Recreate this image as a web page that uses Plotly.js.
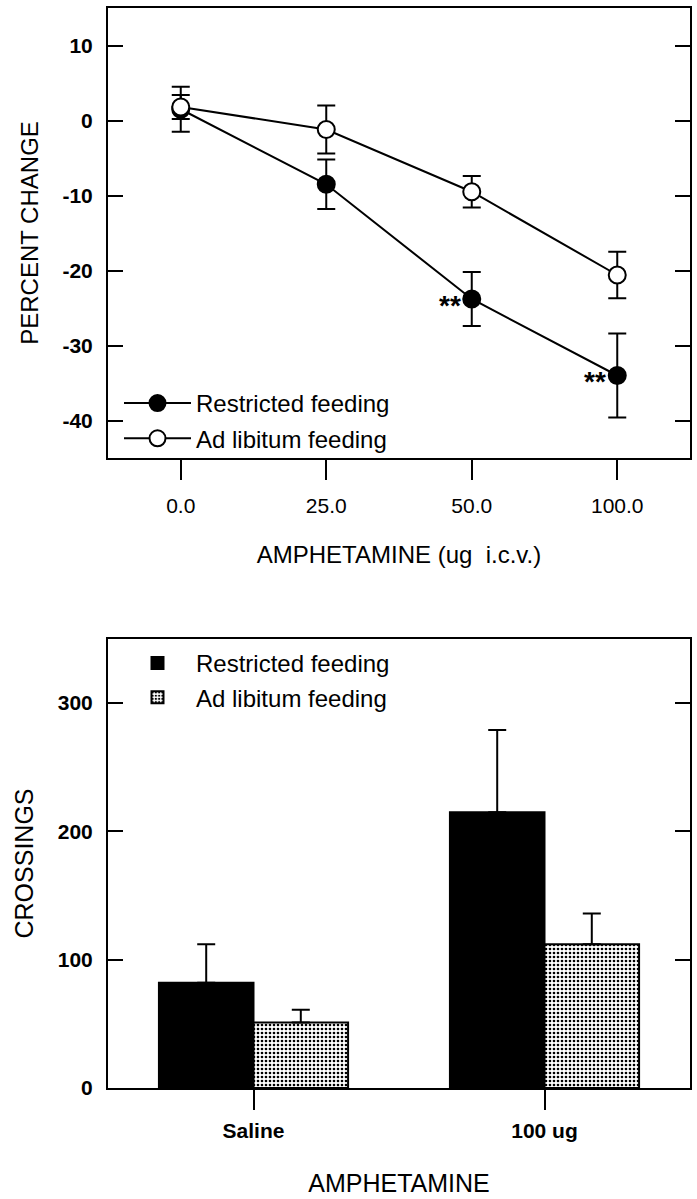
<!DOCTYPE html>
<html>
<head>
<meta charset="utf-8">
<script src="https://cdn.plot.ly/plotly-3.0.1.min.js"></script>
<style>
  html, body { margin: 0; padding: 0; background: #fff; }
  #chart { width: 697px; height: 1199px; }
</style>
</head>
<body>
<div id="chart"></div>
<script>
// top panel: percent change vs dose
const doses = ['0.0', '25.0', '50.0', '100.0'];
const restrictedPct = [1.5, -8.5, -23.8, -34.0];
const restrictedPctErr = [3.0, 3.3, 3.6, 5.6];
const adlibPct = [1.8, -1.2, -9.5, -20.6];
const adlibPctErr = [1.6, 3.2, 2.1, 3.1];
const pctTicks = [-40, -30, -20, -10, 0, 10];
const pctTickText = ['-40', '-30', '-20', '-10', '0', '10'];
const starIdx = [2, 3];   // doses marked ** (50.0, 100.0)

// bottom panel: crossings
const groups = ['Saline', '100 ug'];
const restrictedCross = [82, 215];
const restrictedCrossErr = [30, 64];
const adlibCross = [51, 112];
const adlibCrossErr = [10, 24];
const crossTicks = [0, 100, 200, 300];

const FONT = 'Liberation Sans, Arial, Helvetica, sans-serif';
const W = 697, H = 1199;
const px = v => v / W;
const py = v => 1 - v / H;

const traces = [
    {
        x: doses, y: restrictedPct, type: 'scatter', mode: 'lines+markers',
        name: 'Restricted feeding', legend: 'legend', legendgroup: 'r1',
        line: { color: '#000', width: 2 },
        marker: { size: 17, color: '#000', line: { color: '#000', width: 2 } },
        error_y: { type: 'data', array: restrictedPctErr, visible: true, color: '#000', thickness: 2, width: 9 },
        xaxis: 'x', yaxis: 'y'
    },
    {
        x: doses, y: adlibPct, type: 'scatter', mode: 'lines+markers',
        name: 'Ad libitum feeding', legend: 'legend', legendgroup: 'a1',
        line: { color: '#000', width: 2 },
        marker: { size: 17, color: '#fff', line: { color: '#000', width: 2 } },
        error_y: { type: 'data', array: adlibPctErr, visible: true, color: '#000', thickness: 2, width: 9 },
        xaxis: 'x', yaxis: 'y'
    },
    {
        x: groups, y: restrictedCross, type: 'bar', name: 'Restricted feeding',
        legend: 'legend2', legendgroup: 'r2',
        marker: { color: '#000', line: { color: '#000', width: 2 } },
        error_y: { type: 'data', array: restrictedCrossErr, symmetric: false, arrayminus: [0, 0], visible: true, color: '#000', thickness: 2, width: 9 },
        xaxis: 'x2', yaxis: 'y2'
    },
    {
        x: groups, y: adlibCross, type: 'bar', name: 'Ad libitum feeding',
        legend: 'legend2', legendgroup: 'a2',
        marker: {
            color: '#fff', line: { color: '#000', width: 2 },
            pattern: { shape: '.', fgcolor: '#000', bgcolor: '#fff', size: 4, solidity: 0.35 }
        },
        error_y: { type: 'data', array: adlibCrossErr, symmetric: false, arrayminus: [0, 0], visible: true, color: '#000', thickness: 2, width: 9 },
        xaxis: 'x2', yaxis: 'y2'
    }
];

const axisCommon = {
    showline: true, linecolor: '#000', linewidth: 2,
    showgrid: false, zeroline: false,
    tickcolor: '#000', tickwidth: 2
};

const layout = {
    width: W, height: H,
    margin: { l: 0, r: 0, t: 0, b: 0 },
    paper_bgcolor: '#fff', plot_bgcolor: '#fff',
    font: { family: FONT, color: '#000', size: 20 },
    barmode: 'group', bargap: 0.35, bargroupgap: 0,
    xaxis: {
        ...axisCommon, domain: [px(108), px(690)], anchor: 'y',
        type: 'category', range: [-0.5, 3.5], mirror: true,
        ticks: 'outside', ticklen: 20, ticklabelstandoff: 8,
        tickfont: { size: 21, family: FONT },
        title: { text: 'AMPHETAMINE (ug  i.c.v.)', font: { size: 24, family: FONT }, standoff: 30 }
    },
    yaxis: {
        ...axisCommon, domain: [py(458), py(8)], anchor: 'x',
        range: [-45, 15], tickvals: pctTicks, ticktext: pctTickText, mirror: 'ticks',
        ticks: 'inside', ticklen: 15, ticklabelstandoff: 9,
        tickfont: { size: 21, family: FONT, weight: 'bold' },
        title: { text: 'PERCENT CHANGE', font: { size: 24, family: FONT }, standoff: 17 }
    },
    xaxis2: {
        ...axisCommon, domain: [px(108), px(690)], anchor: 'y2',
        type: 'category', range: [-0.5, 1.5], mirror: true,
        ticks: 'outside', ticklen: 20, ticklabelstandoff: 3,
        tickfont: { size: 21, family: FONT, weight: 'bold' },
        title: { text: 'AMPHETAMINE', font: { size: 25, family: FONT }, standoff: 33 }
    },
    yaxis2: {
        ...axisCommon, domain: [py(1088), py(639)], anchor: 'x2',
        range: [0, 350], tickvals: crossTicks, mirror: 'ticks',
        ticks: 'inside', ticklen: 15, ticklabelstandoff: 9,
        tickfont: { size: 21, family: FONT, weight: 'bold' },
        title: { text: 'CROSSINGS', font: { size: 25, family: FONT }, standoff: 17 }
    },
    legend: {
        x: px(119), y: py(381), xanchor: 'left', yanchor: 'top',
        bgcolor: 'rgba(0,0,0,0)', borderwidth: 0,
        font: { size: 24, family: FONT }, itemwidth: 67, tracegroupgap: 1
    },
    legend2: {
        x: px(119), y: py(641), xanchor: 'left', yanchor: 'top',
        bgcolor: 'rgba(0,0,0,0)', borderwidth: 0,
        font: { size: 24, family: FONT }, itemwidth: 67, tracegroupgap: 0
    },
    annotations: starIdx.map(i => ({
        x: i, y: restrictedPct[i], xref: 'x', yref: 'y',
        text: '**', showarrow: false,
        xanchor: 'right', yanchor: 'middle', xshift: -9, yshift: -6,
        font: { size: 28, family: FONT, weight: 'bold', color: '#000' }
    }))
};

Plotly.newPlot('chart', traces, layout, { staticPlot: true, displayModeBar: false });
</script>
</body>
</html>
